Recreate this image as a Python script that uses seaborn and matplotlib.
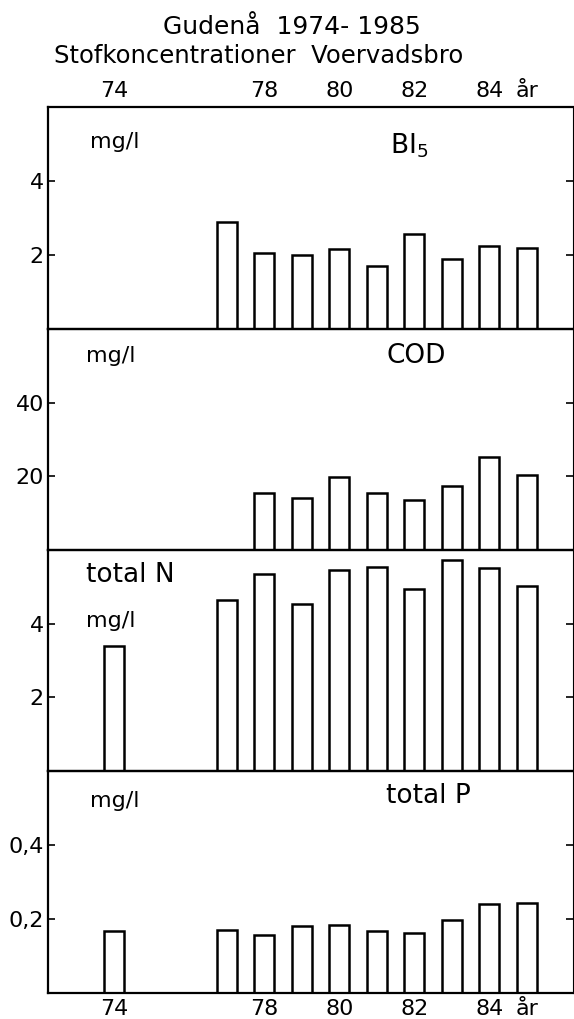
import numpy as np
import pandas as pd
import seaborn as sns
import matplotlib.pyplot as plt

# Gudenå, Voervadsbro: annual mean concentrations
years_bi5 = [1977, 1978, 1979, 1980, 1981, 1982, 1983, 1984, 1985]
bi5 = [2.88, 2.06, 1.99, 2.17, 1.69, 2.58, 1.89, 2.25, 2.18]

years_cod = [1978, 1979, 1980, 1981, 1982, 1983, 1984, 1985]
cod = [15.5, 14.1, 19.7, 15.5, 13.7, 17.4, 25.3, 20.4]

years_n = [1974, 1977, 1978, 1979, 1980, 1981, 1982, 1983, 1984, 1985]
tot_n = [3.40, 4.64, 5.35, 4.53, 5.47, 5.53, 4.95, 5.72, 5.51, 5.02]

years_p = [1974, 1977, 1978, 1979, 1980, 1981, 1982, 1983, 1984, 1985]
tot_p = [0.168, 0.171, 0.158, 0.181, 0.183, 0.168, 0.162, 0.198, 0.240, 0.243]

xtick_pos = [1974, 1978, 1980, 1982, 1984, 1985]
xtick_lab = ['74', '78', '80', '82', '84', 'år']

sns.set_style('ticks')
plt.rcParams['font.family'] = ['DejaVu Sans']
plt.rcParams.update({'text.color': 'black', 'axes.edgecolor': 'black',
                     'xtick.color': 'black', 'ytick.color': 'black',
                     'axes.labelcolor': 'black'})

W, H = 574, 1019
fig = plt.figure(figsize=(W / 100, H / 100), dpi=100)

panels = [
    (years_bi5, bi5, 6, [2, 4], ['2', '4'], 107, 329),
    (years_cod, cod, 60, [20, 40], ['20', '40'], 329, 550),
    (years_n, tot_n, 6, [2, 4], ['2', '4'], 550, 771),
    (years_p, tot_p, 0.6, [0.2, 0.4], ['0,2', '0,4'], 771, 993),
]

for i, (yrs, vals, ymax, yt, ytl, top, bot) in enumerate(panels):
    ax = fig.add_axes([48 / W, 1 - bot / H, (573 - 48) / W, (bot - top) / H])
    df = pd.DataFrame({'year': yrs, 'value': vals})
    sns.barplot(data=df, x='year', y='value', native_scale=True, width=0.53,
                color='white', edgecolor='black', linewidth=1.8,
                errorbar=None, ax=ax)
    ax.set_xlim(1972.24, 1986.23)
    ax.set_ylim(0, ymax)
    ax.set_xlabel('')
    ax.set_ylabel('')
    ax.set_yticks(yt)
    ax.set_yticklabels(ytl)
    ax.tick_params(axis='y', direction='in', length=5, width=1.2,
                   left=True, right=True, labelsize=16, pad=3,
                   colors='black')
    ax.set_xticks(xtick_pos)
    ax.set_xticklabels(xtick_lab)
    ax.tick_params(axis='x', length=0, labelsize=16, pad=4,
                   bottom=False, top=False, colors='black',
                   labelbottom=(i == 3), labeltop=(i == 0))
    for s in ['left', 'bottom', 'top']:
        ax.spines[s].set_linewidth(1.6)
        ax.spines[s].set_color('black')
    ax.spines['right'].set_linewidth(0.8)
    ax.spines['right'].set_color('black')
    ax.patch.set_alpha(0)


def ftext(x, y, s, size, ha='left'):
    fig.text(x / W, 1 - y / H, s, fontsize=size, va='center', ha=ha,
             color='black')


ftext(292, 27, 'Gudenå  1974- 1985', 18, ha='center')
ftext(259, 56, 'Stofkoncentrationer  Voervadsbro', 17.5, ha='center')

ftext(90, 142, 'mg/l', 16)
ftext(390, 146, r'BI$_5$', 19)
ftext(86, 356, 'mg/l', 16)
ftext(386, 356, 'COD', 19)
ftext(86, 575, 'total N', 19)
ftext(86, 621, 'mg/l', 16)
ftext(90, 801, 'mg/l', 16)
ftext(386, 796, 'total P', 19)

fig.savefig('out.png', dpi=100)
